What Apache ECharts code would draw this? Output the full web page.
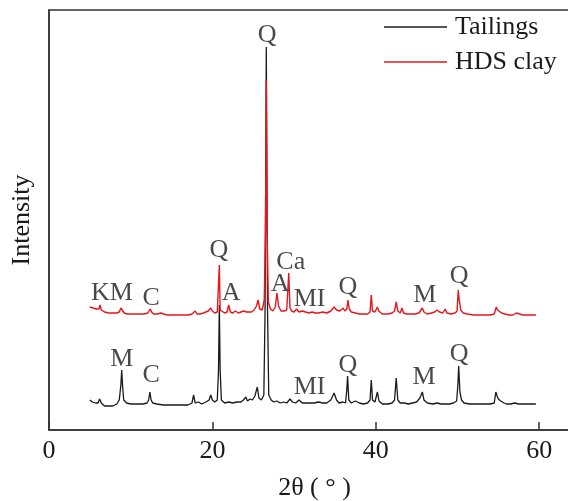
<!DOCTYPE html>
<html><head><meta charset="utf-8">
<script src="https://cdn.jsdelivr.net/npm/echarts@6/dist/echarts.min.js"></script>
<style>html,body{margin:0;padding:0;background:#fff;overflow:hidden}#c{width:568px;height:501px}</style>
</head><body><div id="c"></div>
<script>
// 2θ (degrees), intensity (arbitrary units, offset traces)
const tailings = [[5.0,30],[5.3,28],[5.7,27],[6.0,27],[6.2,31],[6.4,27],[6.8,24],[7.3,24],[7.8,24],[8.3,26],[8.6,30],[8.8,45],[8.9,60],[9.0,45],[9.15,30],[9.5,27],[10.0,26],[10.5,26],[11.0,26],[11.5,26],[12.0,27],[12.2,30],[12.35,38],[12.5,30],[12.7,27],[13.2,26],[14,25],[15,25],[16,25],[17,25],[17.5,27],[17.7,35],[17.9,27],[18.3,28],[18.7,26],[19.2,28],[19.6,30],[19.8,35],[20.0,30],[20.3,28],[20.6,30],[20.75,60],[20.85,125],[20.95,60],[21.1,30],[21.5,27],[22.0,28],[22.5,27],[23.0,28],[23.5,28],[23.8,30],[24.1,33],[24.3,29],[24.6,31],[24.9,30],[25.2,34],[25.5,43],[25.7,32],[26.0,30],[26.3,35],[26.45,120],[26.6,383],[26.75,120],[26.9,35],[27.2,30],[27.5,28],[27.9,29],[28.3,27],[28.7,28],[29.1,27],[29.5,31],[29.8,28],[30.2,27],[30.6,30],[31.0,27],[31.5,27],[32,27],[32.5,27],[33,28],[33.5,27],[34,27],[34.5,30],[34.9,37],[35.2,30],[35.5,27],[36.0,28],[36.3,27],[36.45,40],[36.55,54],[36.7,30],[37.0,27],[37.5,29],[38.0,27],[38.5,26],[39.0,27],[39.3,30],[39.45,50],[39.6,30],[39.9,28],[40.2,38],[40.4,29],[40.8,26],[41.5,26],[42.0,27],[42.3,30],[42.5,52],[42.7,30],[43.0,27],[43.5,27],[44.0,26],[44.5,27],[45.0,28],[45.4,32],[45.7,38],[45.9,30],[46.3,27],[47.0,26],[47.5,27],[48.0,26],[48.5,26],[49.0,26],[49.5,27],[49.9,29],[50.05,45],[50.15,64],[50.3,38],[50.5,30],[50.8,27],[51.5,26],[52,26],[52.5,26],[53,26],[53.5,26],[54,26],[54.5,27],[54.7,38],[54.85,34],[55.0,31],[55.3,29],[55.7,27],[56,26],[56.5,26],[57,27],[57.5,26],[58,26],[58.5,26],[59,26],[59.6,26]];
const hdsClay = [[5.0,123],[5.4,122],[5.8,121],[6.1,121],[6.25,125],[6.4,120],[6.8,118],[7.3,117],[7.8,117],[8.3,117],[8.6,118],[8.8,122],[8.9,124],[9.0,120],[9.2,117],[9.6,116],[10.1,116],[10.6,116],[11.1,116],[11.6,116],[12.1,117],[12.3,119],[12.4,121],[12.55,118],[12.8,116],[13.3,116],[13.7,117],[13.85,119],[14.0,116],[14.5,115],[15,115],[15.5,115],[16,115],[16.5,115],[17,115],[17.5,116],[17.9,119],[18.1,116],[18.5,116],[18.9,117],[19.2,118],[19.5,119],[19.8,122],[20.0,119],[20.3,117],[20.6,118],[20.75,120],[20.85,165],[20.95,120],[21.1,118],[21.5,117],[21.8,118],[22.0,125],[22.2,118],[22.5,117],[22.8,119],[23.0,121],[23.2,117],[23.5,118],[23.8,119],[24.0,121],[24.2,118],[24.5,118],[24.8,118],[25.1,120],[25.4,124],[25.6,130],[25.8,121],[26.1,120],[26.35,130],[26.5,200],[26.6,350],[26.7,200],[26.85,128],[27.1,121],[27.4,119],[27.7,123],[27.9,137],[28.1,124],[28.4,119],[28.8,119],[29.1,120],[29.25,122],[29.35,157],[29.5,122],[29.7,119],[30.0,118],[30.3,121],[30.6,118],[31.0,119],[31.4,118],[31.8,117],[32.2,118],[32.6,117],[33.0,117],[33.5,118],[34.0,117],[34.5,119],[34.9,123],[35.2,120],[35.6,119],[36.0,122],[36.2,119],[36.45,121],[36.6,130],[36.75,121],[37.0,118],[37.5,117],[38.0,116],[38.5,116],[39.0,116],[39.3,118],[39.45,135],[39.6,119],[39.9,118],[40.2,123],[40.35,119],[40.8,116],[41.5,116],[42.0,117],[42.3,119],[42.5,128],[42.7,119],[43.0,117],[43.2,122],[43.4,117],[43.8,116],[44.3,116],[44.8,116],[45.3,117],[45.7,122],[45.9,118],[46.3,116],[46.8,117],[47.2,118],[47.5,120],[47.8,118],[48.2,117],[48.5,121],[48.7,117],[49.2,116],[49.7,117],[49.95,119],[50.1,140],[50.2,131],[50.4,120],[50.7,117],[51.2,116],[52,115],[52.5,115],[53,115],[53.5,115],[54,115],[54.5,116],[54.75,123],[54.9,120],[55.1,119],[55.4,117],[55.8,116],[56.3,115],[56.8,115],[57.2,117],[57.4,118],[57.6,116],[58,115],[58.5,115],[59,115],[59.6,115]];
// phase labels: [2θ, intensity, text]
const phaseLabels = [[26.7,395,'Q'],[7.7,137,'KM'],[12.5,132,'C'],[20.8,180,'Q'],[22.3,137,'A'],[28.3,146,'A'],[29.6,168,'Ca'],[31.9,131,'MI'],[36.6,143,'Q'],[46.0,135,'M'],[50.2,154,'Q'],[8.9,71,'M'],[12.5,55,'C'],[31.9,43,'MI'],[36.6,65,'Q'],[45.9,53,'M'],[50.2,76,'Q']];
const seriesNames = ['Tailings','HDS clay'];
const xTicks = [0,20,40,60];

const FONT = '"Liberation Serif","Times New Roman",serif';
const AX = '#333';
const TXT = '#1a1a1a';
const chart = echarts.init(document.getElementById('c'), null, {renderer:'canvas', width:568, height:501});
chart.setOption({
  animation:false,
  backgroundColor:'#fff',
  grid:{left:49, top:10, width:531, height:420, outerBoundsMode:'none', containLabel:false, show:true, borderColor:AX, borderWidth:1.5},
  legend:{
    data:seriesNames, orient:'vertical', left:384, top:14, padding:0, itemWidth:63, itemHeight:14, itemGap:9,
    icon:'path://M0,0 L63,0 L63,1.4 L0,1.4 Z',
    textStyle:{fontFamily:FONT, fontSize:26, color:TXT, padding:[0,0,0,3]}
  },
  xAxis:{
    type:'value', min:0, max:65, interval:20,
    name:'2θ ( ° )', nameLocation:'middle', nameGap:45,
    nameTextStyle:{fontFamily:FONT, fontSize:26, color:TXT},
    axisLine:{lineStyle:{color:AX, width:1.5}},
    axisTick:{inside:true, length:8, lineStyle:{color:AX, width:1.5}},
    axisLabel:{fontFamily:FONT, fontSize:26, color:TXT, margin:8, showMaxLabel:false,
      formatter:v=> xTicks.includes(v)? String(v):''},
    splitLine:{show:false}
  },
  yAxis:{
    type:'value', min:0, max:420,
    name:'Intensity', nameLocation:'middle', nameRotate:90, nameGap:14,
    nameTextStyle:{fontFamily:FONT, fontSize:26, color:TXT},
    axisLine:{show:true, lineStyle:{color:AX, width:1.5}},
    axisTick:{show:false}, axisLabel:{show:false}, splitLine:{show:false}
  },
  series:[
    {name:seriesNames[0], type:'line', data:tailings, symbol:'none', lineStyle:{color:'#1a1a1a', width:1.3}, itemStyle:{color:'#1a1a1a'}, z:2},
    {name:seriesNames[1], type:'line', data:hdsClay, symbol:'none', lineStyle:{color:'#e8151b', width:1.4}, itemStyle:{color:'#e8151b'}, z:3},
    {type:'scatter', data:phaseLabels, symbolSize:0, silent:true, z:5,
     label:{show:true, position:'inside', formatter:p=>p.data[2], fontFamily:FONT, fontSize:26, color:TXT, align:'center', verticalAlign:'middle'}}
  ]
});
</script></body></html>
